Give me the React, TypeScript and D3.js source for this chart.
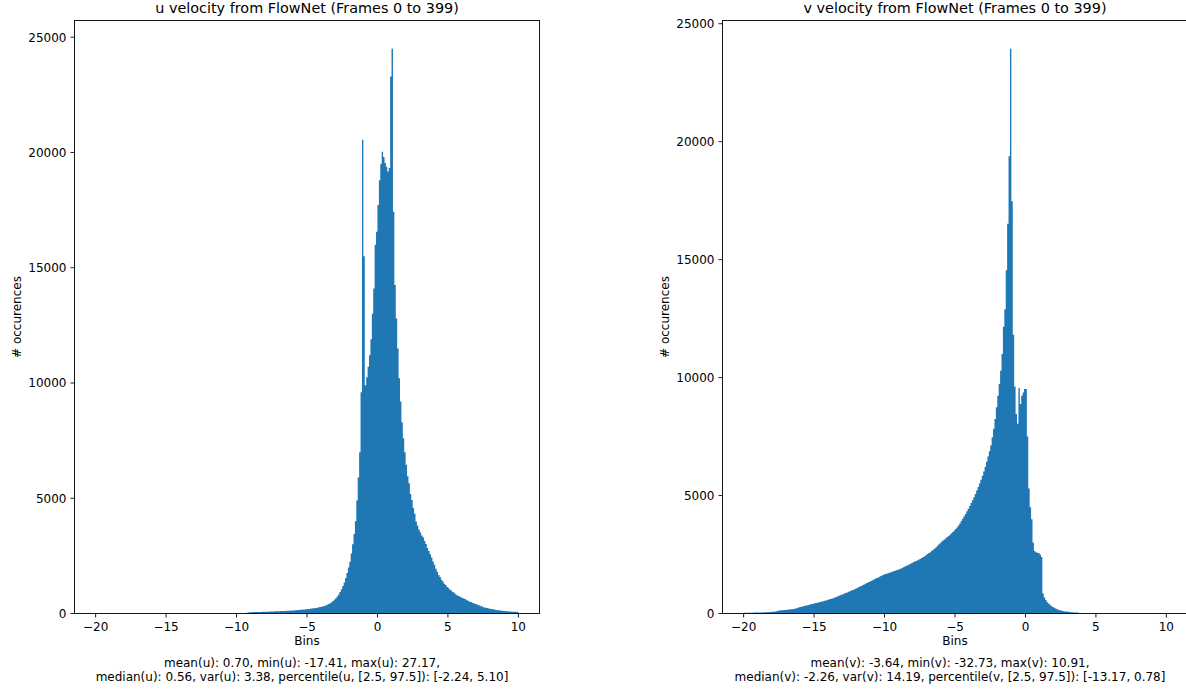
import React from 'react';
import * as d3 from 'd3';

// histogram range used for both plots, 300 bins of 0.1
const binRange: [number, number] = [-20, 10];

// u velocity counts per bin (from -20 to 10)
const uCounts = [
  0, 0, 0, 0, 0, 0, 0, 0, 0, 0,
  0, 0, 0, 0, 0, 0, 0, 0, 0, 0,
  0, 0, 0, 0, 0, 0, 0, 0, 0, 0,
  0, 0, 0, 0, 0, 0, 0, 0, 0, 0,
  0, 0, 0, 0, 0, 0, 0, 0, 0, 0,
  0, 0, 0, 0, 0, 0, 0, 0, 0, 0,
  0, 0, 0, 0, 0, 0, 0, 0, 0, 0,
  0, 0, 0, 0, 0, 0, 0, 0, 0, 0,
  0, 0, 0, 0, 0, 0, 0, 0, 0, 0,
  0, 0, 0, 0, 0, 0, 0, 0, 0, 0,
  0, 0, 0, 0, 0, 0, 0, 34, 48, 55,
  58, 56, 63, 61, 66, 65, 70, 68, 73, 76,
  78, 81, 80, 85, 88, 87, 92, 95, 94, 99,
  101, 104, 108, 107, 113, 116, 119, 123, 126, 130,
  134, 139, 143, 149, 154, 160, 165, 172, 178, 185,
  192, 199, 207, 214, 223, 233, 243, 254, 266, 279,
  294, 311, 330, 354, 381, 413, 450, 493, 543, 598,
  662, 738, 828, 928, 1048, 1188, 1348, 1538, 1758, 2000,
  2250, 2600, 3000, 3450, 4000, 4900, 5900, 7000, 9600, 20550,
  15500, 9900, 10250, 10700, 11200, 11900, 13000, 14100, 16000, 16560,
  17720, 18800, 19500, 20035, 19800, 19540, 19380, 19170, 19330, 23300,
  24500, 17430, 14250, 12800, 11500, 10200, 9200, 8300, 7600, 7000,
  6450, 5950, 5650, 5180, 4920, 4580, 4330, 3990, 3820, 3640,
  3520, 3380, 3310, 3140, 3010, 2840, 2710, 2570, 2430, 2260,
  2110, 1940, 1810, 1670, 1580, 1460, 1390, 1290, 1240, 1150,
  1110, 1030, 995, 935, 895, 835, 795, 755, 735, 695,
  675, 635, 615, 575, 555, 515, 500, 465, 450, 415,
  400, 365, 350, 315, 300, 265, 260, 235, 230, 205,
  205, 185, 180, 160, 155, 138, 138, 125, 122, 112,
  110, 99, 98, 88, 87, 78, 79, 71, 72, 64,
];

// v velocity counts per bin (from -20 to 10)
const vCounts = [
  28, 30, 32, 30, 34, 36, 35, 38, 40, 39,
  42, 44, 46, 45, 50, 52, 55, 58, 60, 63,
  70, 78, 88, 100, 112, 125, 135, 140, 145, 150,
  155, 160, 168, 175, 185, 195, 205, 220, 240, 260,
  280, 295, 310, 325, 340, 355, 370, 385, 400, 415,
  430, 445, 460, 475, 490, 505, 520, 540, 555, 570,
  590, 610, 630, 650, 670, 695, 720, 745, 770, 795,
  820, 845, 870, 895, 920, 945, 970, 995, 1020, 1050,
  1080, 1110, 1140, 1170, 1200, 1230, 1260, 1290, 1320, 1350,
  1380, 1410, 1440, 1470, 1500, 1530, 1560, 1590, 1620, 1645,
  1670, 1690, 1710, 1730, 1750, 1770, 1790, 1810, 1830, 1850,
  1875, 1900, 1930, 1960, 1990, 2020, 2050, 2080, 2110, 2140,
  2170, 2200, 2230, 2260, 2290, 2320, 2350, 2390, 2430, 2470,
  2520, 2560, 2600, 2650, 2700, 2750, 2800, 2860, 2920, 2980,
  3040, 3090, 3140, 3190, 3240, 3290, 3340, 3400, 3460, 3520,
  3580, 3650, 3730, 3820, 3920, 4020, 4120, 4220, 4330, 4440,
  4560, 4680, 4800, 4930, 5070, 5210, 5360, 5510, 5670, 5840,
  6020, 6220, 6430, 6650, 6880, 7120, 7470, 7830, 8250, 8740,
  9230, 9730, 10290, 11000, 12150, 12900, 14550, 16520, 19380, 23940,
  17480, 11815, 9620, 8460, 8040, 9560, 8880, 9230, 9370, 9520,
  9520, 7500, 5300, 4500, 4000, 3000, 2650, 2600, 2580, 2560,
  2500, 2390, 850, 680, 570, 480, 420, 370, 320, 280,
  245, 210, 180, 160, 140, 125, 110, 98, 88, 80,
  72, 65, 58, 52, 46, 42, 38, 30, 20, 10,
  0, 0, 0, 0, 0, 0, 0, 0, 0, 0,
  0, 0, 0, 0, 0, 0, 0, 0, 0, 0,
  0, 0, 0, 0, 0, 0, 0, 0, 0, 0,
  0, 0, 0, 0, 0, 0, 0, 0, 0, 0,
  0, 0, 0, 0, 0, 0, 0, 0, 0, 0,
  0, 0, 0, 0, 0, 0, 0, 0, 0, 0,
];

const xTicks = [-20, -15, -10, -5, 0, 5, 10];
const yTicks = [0, 5000, 10000, 15000, 20000, 25000];

const uTitle = 'u velocity from FlowNet (Frames 0 to 399)';
const vTitle = 'v velocity from FlowNet (Frames 0 to 399)';
const uStats = [
  'mean(u): 0.70, min(u): -17.41, max(u): 27.17,',
  'median(u): 0.56, var(u): 3.38, percentile(u, [2.5, 97.5]): [-2.24, 5.10]',
];
const vStats = [
  'mean(v): -3.64, min(v): -32.73, max(v): 10.91,',
  'median(v): -2.26, var(v): 14.19, percentile(v, [2.5, 97.5]): [-13.17, 0.78]',
];

const W = 1186;
const H = 693;
const FONT = '"DejaVu Sans", sans-serif';
const BLUE = '#1f77b4';
const TOP = 20.5;
const BOTTOM = 613.5;
const FS = 12;

type HistProps = {
  counts: number[];
  left: number;
  right: number;
  title: string;
  stats: string[];
};

const fmtTick = (d: number) => (d < 0 ? '\u2212' + Math.abs(d) : String(d));

function Histogram({ counts, left, right, title, stats }: HistProps) {
  const span = binRange[1] - binRange[0];
  const pad = span * 0.05;
  const x = d3.scaleLinear().domain([binRange[0] - pad, binRange[1] + pad]).range([left, right]);
  const yMax = (d3.max(counts) as number) * 1.05;
  const y = d3.scaleLinear().domain([0, yMax]).range([BOTTOM, TOP]);
  const step = span / counts.length;
  const cx = (left + right) / 2;

  // all bars in one path so neighbouring bars don't show seams
  const p = d3.path();
  counts.forEach((c, i) => {
    if (!c) return;
    const x0 = x(binRange[0] + i * step);
    const x1 = x(binRange[0] + (i + 1) * step);
    p.rect(x0, y(c), x1 - x0, BOTTOM - y(c));
  });

  return (
    <g>
      <path d={p.toString()} fill={BLUE} />
      <rect x={left} y={TOP} width={right - left} height={BOTTOM - TOP} fill="none" stroke="#000" strokeWidth={0.9} />
      {xTicks.map((t) => (
        <g key={'x' + t}>
          <line x1={x(t)} x2={x(t)} y1={BOTTOM} y2={BOTTOM + 4} stroke="#000" strokeWidth={0.9} />
          <text x={x(t)} y={631} textAnchor="middle" fontSize={FS} fontFamily={FONT} fill="#000">
            {fmtTick(t)}
          </text>
        </g>
      ))}
      {yTicks.map((t) => (
        <g key={'y' + t}>
          <line x1={left - 4} x2={left} y1={y(t)} y2={y(t)} stroke="#000" strokeWidth={0.9} />
          <text x={left - 8} y={y(t) + 4.3} textAnchor="end" fontSize={FS} fontFamily={FONT} fill="#000">
            {t}
          </text>
        </g>
      ))}
      <text x={cx} y={13} textAnchor="middle" fontSize={14.4} fontFamily={FONT} fill="#000">
        {title}
      </text>
      <text x={cx} y={645} textAnchor="middle" fontSize={FS} fontFamily={FONT} fill="#000">
        Bins
      </text>
      <text
        transform={`translate(${left - 54},${(TOP + BOTTOM) / 2}) rotate(-90)`}
        textAnchor="middle"
        fontSize={FS}
        fontFamily={FONT}
        fill="#000"
      >
        # occurences
      </text>
      {stats.map((s, i) => (
        <text key={i} x={cx - 5} y={667 + i * 14} textAnchor="middle" fontSize={FS} fontFamily={FONT} fill="#000">
          {s}
        </text>
      ))}
    </g>
  );
}

export default function App() {
  return (
    <svg width={W} height={H} style={{ position: 'fixed', left: 0, top: 0, background: '#fff' }}>
      <rect width={W} height={H} fill="#fff" />
      <Histogram counts={uCounts} left={74.5} right={539.5} title={uTitle} stats={uStats} />
      <Histogram counts={vCounts} left={722.5} right={1187.5} title={vTitle} stats={vStats} />
    </svg>
  );
}
